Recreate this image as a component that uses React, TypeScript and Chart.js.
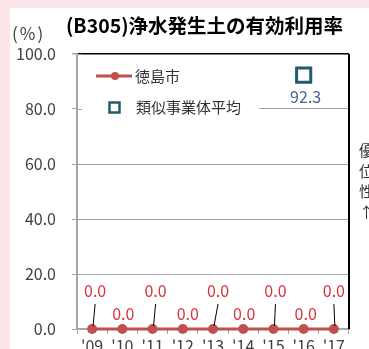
import React, { useEffect, useRef } from "react";
import { Chart, registerables } from "chart.js";

Chart.register(...registerables);

// ---- data ----
const categories = ["'09", "'10", "'11", "'12", "'13", "'14", "'15", "'16", "'17"];
const tokushimaValues = [0, 0, 0, 0, 0, 0, 0, 0, 0];
const similarAverageValues: (number | null)[] = [null, null, null, null, null, null, null, 92.3, null];
const yTickValues = [0, 20, 40, 60, 80, 100];
const seriesNames = ["徳島市", "類似事業体平均"];
const titleText = "(B305)浄水発生土の有効利用率";
const unitText = "(%)";
const sideText = "優位性↑";

// ---- style ----
const FONT = '"Noto Sans CJK JP", "Noto Sans", sans-serif';
const RED = "#c0504d";
const LABEL_RED = "#d9343c";
const TEAL = "#245b6b";
const AVG_LABEL = "#44689a";
const GRAY = "#a6a6a6";
const TEXT = "#404040";
const labelDx = [3, 1, 3, 5, 5, 1, 2, 2, 0];

const extrasPlugin = {
  id: "extras",
  afterDatasetsDraw(chart: any) {
    const ctx = chart.ctx;
    const meta0 = chart.getDatasetMeta(0);
    ctx.save();
    ctx.font = `16px ${FONT}`;
    ctx.textAlign = "center";
    ctx.textBaseline = "middle";
    meta0.data.forEach((pt: any, i: number) => {
      const v = tokushimaValues[i];
      const high = i % 2 === 0;
      const lx = pt.x + labelDx[i];
      const ly = pt.y - (high ? 38 : 15);
      if (high) {
        ctx.strokeStyle = "#000";
        ctx.lineWidth = 1;
        ctx.beginPath();
        ctx.moveTo(lx, ly + 13);
        ctx.lineTo(pt.x + 1, pt.y - 3);
        ctx.stroke();
      }
      ctx.fillStyle = LABEL_RED;
      ctx.fillText(v.toFixed(1), lx, ly);
    });
    const meta1 = chart.getDatasetMeta(1);
    meta1.data.forEach((pt: any, i: number) => {
      const v = similarAverageValues[i];
      if (v == null) return;
      ctx.fillStyle = AVG_LABEL;
      ctx.fillText(v.toFixed(1), pt.x + 2, pt.y + 22);
    });
    ctx.restore();
  },
  afterDraw(chart: any) {
    const ctx = chart.ctx;
    const a = chart.chartArea;
    ctx.save();
    // legend box
    ctx.fillStyle = "#ffffff";
    ctx.fillRect(a.left + 1, a.top + 4, 181, 66);
    const y1 = a.top + 22;
    const y2 = a.top + 53;
    ctx.strokeStyle = RED;
    ctx.lineWidth = 3;
    ctx.beginPath();
    ctx.moveTo(a.left + 19, y1);
    ctx.lineTo(a.left + 55, y1);
    ctx.stroke();
    ctx.fillStyle = RED;
    ctx.beginPath();
    ctx.arc(a.left + 38, y1, 4, 0, Math.PI * 2);
    ctx.fill();
    ctx.strokeStyle = TEAL;
    ctx.lineWidth = 2.5;
    ctx.strokeRect(a.left + 32.5, y2 - 4.5, 10, 10);
    ctx.fillStyle = "#333333";
    ctx.font = `15px ${FONT}`;
    ctx.textAlign = "left";
    ctx.textBaseline = "middle";
    ctx.fillText(seriesNames[0], a.left + 58, y1);
    ctx.fillText(seriesNames[1], a.left + 59, y2);
    // inner y ticks
    const ys = chart.scales.y;
    ctx.strokeStyle = GRAY;
    ctx.lineWidth = 1;
    yTickValues.forEach((v) => {
      const py = Math.round(ys.getPixelForValue(v)) + 0.5;
      ctx.beginPath();
      ctx.moveTo(a.left, py);
      ctx.lineTo(a.left + 5, py);
      ctx.stroke();
    });
    // right border
    ctx.strokeStyle = "#000";
    ctx.lineWidth = 2;
    ctx.beginPath();
    ctx.moveTo(a.right, a.top);
    ctx.lineTo(a.right, a.bottom);
    ctx.stroke();
    ctx.restore();
  },
};

export default function App() {
  const ref = useRef<HTMLCanvasElement | null>(null);
  useEffect(() => {
    document.body.style.margin = "0";
    if (!ref.current) return;
    const chart = new Chart(ref.current, {
      type: "line",
      data: {
        labels: categories,
        datasets: [
          {
            label: seriesNames[0],
            data: tokushimaValues,
            borderColor: RED,
            backgroundColor: RED,
            borderWidth: 3,
            pointRadius: 5,
            pointBackgroundColor: RED,
            pointBorderWidth: 0,
            clip: false as any,
          },
          {
            label: seriesNames[1],
            data: similarAverageValues,
            showLine: false,
            pointStyle: "rect",
            pointRadius: 10,
            pointBorderWidth: 3,
            pointBorderColor: TEAL,
            pointBackgroundColor: "#ffffff",
            borderColor: TEAL,
            backgroundColor: "#ffffff",
            clip: false as any,
          },
        ],
      },
      options: {
        responsive: false,
        animation: false,
        layout: { padding: { top: 54, right: 20, left: 0, bottom: 0 } },
        plugins: { legend: { display: false }, title: { display: false }, tooltip: { enabled: false } },
        scales: {
          x: {
            type: "category",
            offset: true,
            grid: { offset: true, drawOnChartArea: false, tickLength: 5, color: GRAY, lineWidth: 1 },
            border: { color: GRAY, width: 2 },
            ticks: { font: { family: FONT, size: 16 }, color: TEXT, padding: 2, maxRotation: 0, autoSkip: false },
            afterFit: (s: any) => {
              s.height = 20;
              s.paddingLeft = 0;
              s.paddingRight = 0;
            },
          },
          y: {
            min: 0,
            max: 100,
            afterBuildTicks: (s: any) => {
              s.ticks = yTickValues.map((v) => ({ value: v }));
            },
            grid: {
              color: (c: any) => (c.tick && c.tick.value === 100 ? "#000000" : GRAY),
              lineWidth: (c: any) => (c.tick && c.tick.value === 100 ? 1.5 : 1),
              tickColor: GRAY,
              tickLength: 5,
            },
            border: { color: GRAY, width: 2 },
            ticks: {
              font: { family: FONT, size: 16 },
              color: TEXT,
              padding: 16,
              callback: (v: any) => Number(v).toFixed(1),
            },
            afterFit: (s: any) => {
              s.width = 77;
              s.paddingTop = 0;
              s.paddingBottom = 0;
            },
          },
        },
      },
      plugins: [extrasPlugin],
    } as any);
    return () => chart.destroy();
  }, []);

  return (
    <div
      style={{
        position: "relative",
        width: 369,
        height: 349,
        background: "#fde6e9",
        overflow: "hidden",
        fontFamily: FONT,
      }}
    >
      <div style={{ position: "absolute", left: 10, top: 8, right: 0, bottom: 0, background: "#ffffff" }} />
      <canvas ref={ref} width={369} height={349} style={{ position: "absolute", left: 0, top: 0 }} />
      <div
        style={{
          position: "absolute",
          left: 66,
          top: 13,
          fontSize: 19.5,
          lineHeight: "24px",
          fontWeight: "bold",
          color: "#000",
          whiteSpace: "nowrap",
        }}
      >
        {titleText}
      </div>
      <div
        style={{
          position: "absolute",
          left: 12,
          top: 23,
          fontSize: 17,
          lineHeight: "20px",
          letterSpacing: "2px",
          color: TEXT,
        }}
      >
        {unitText}
      </div>
      <div
        style={{
          position: "absolute",
          left: 358,
          top: 143,
          fontSize: 15,
          lineHeight: "16px",
          letterSpacing: "5.5px",
          writingMode: "vertical-rl",
          textOrientation: "upright",
          color: "#333",
          whiteSpace: "nowrap",
        }}
      >
        {sideText}
      </div>
    </div>
  );
}
